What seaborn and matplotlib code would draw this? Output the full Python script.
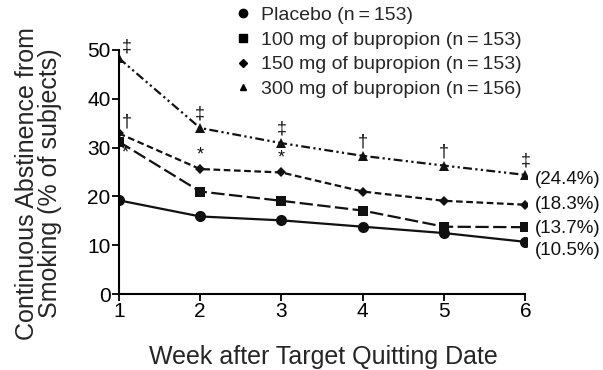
import matplotlib
matplotlib.use("Agg")
import matplotlib.pyplot as plt
import seaborn as sns
import pandas as pd
from matplotlib.lines import Line2D

weeks = [1, 2, 3, 4, 5, 6]
placebo = [19.2, 15.9, 15.1, 13.8, 12.5, 10.7]
bup100 = [31.2, 21.0, 19.1, 17.1, 13.8, 13.7]
bup150 = [32.9, 25.6, 24.9, 21.0, 19.1, 18.3]
bup300 = [48.3, 34.0, 30.9, 28.3, 26.3, 24.4]
series_names = ["Placebo (n\u2009=\u2009153)", "100 mg of bupropion (n\u2009=\u2009153)",
                "150 mg of bupropion (n\u2009=\u2009153)", "300 mg of bupropion (n\u2009=\u2009156)"]
end_labels = ["(10.5%)", "(13.7%)", "(18.3%)", "(24.4%)"]
# significance marks: (series index, week, symbol)
sig_marks = [(3, 1, "\u2021"), (2, 1, "\u2020"), (1, 1, "*"),
             (3, 2, "\u2021"), (3, 3, "\u2021"), (3, 4, "\u2020"), (3, 5, "\u2020"), (3, 6, "\u2021"),
             (2, 2, "*"), (2, 3, "*")]

sns.set_theme(style="ticks")
plt.rcParams['font.family'] = ['Liberation Sans', 'DejaVu Sans']

values = [placebo, bup100, bup150, bup300]
rows = []
for name, vals in zip(series_names, values):
    for w, v in zip(weeks, vals):
        rows.append({"week": w, "value": v, "group": name})
df = pd.DataFrame(rows)

fig = plt.figure(figsize=(6.03, 3.70), dpi=100)
ax = fig.add_axes([0.197, 0.205, 0.677, 0.667])

markers = dict(zip(series_names, ["o", "s", "D", "^"]))
dashes = dict(zip(series_names, ["", (6, 2), (3, 1.6), (4, 1.5, 1, 1.5, 1, 1.5)]))
sizes = {series_names[0]: 8, series_names[1]: 7, series_names[2]: 5.5, series_names[3]: 6.5}

for name, vals in zip(series_names, values):
    sub = df[df.group == name]
    sns.lineplot(data=sub, x="week", y="value", ax=ax, color="#111111",
                 marker=markers[name], markersize=sizes[name], markeredgewidth=0,
                 linewidth=1.6, dashes=False, legend=False)
    line = ax.lines[-1]
    if dashes[name]:
        line.set_dashes(dashes[name])

ax.set_xlim(1, 6.02)
ax.set_ylim(0, 50.5)
ax.set_xticks(weeks)
ax.set_yticks([0, 10, 20, 30, 40, 50])
sns.despine(ax=ax)
for sp in ('left', 'bottom'):
    ax.spines[sp].set_linewidth(1.5)
    ax.spines[sp].set_color("black")
ax.spines['left'].set_bounds(0, 50)
ax.spines['bottom'].set_bounds(1, 6)
ax.tick_params(axis='both', labelsize=15, width=1.3, length=5, colors="black", pad=1)
ax.set_xlabel("Week after Target Quitting Date", fontsize=18, labelpad=17)
ax.set_ylabel("Continuous Abstinence from\nSmoking (% of subjects)", fontsize=18,
              linespacing=0.95)
ax.yaxis.set_label_coords(-0.14, 0.45)

for i, (s, w, sym) in enumerate(sig_marks):
    y = values[s][w - 1]
    if w == 1 and sym != "*":
        off = (6, 2)
    elif sym == "*" and w == 1:
        off = (5, -14)
    else:
        off = (0, 4)
    ax.annotate(sym, (w, y), xytext=off, textcoords="offset points",
                ha="center", va="bottom", fontsize=13, color="#111111")

end_offsets = [-6, -1, 0, -3]
for vals, lab, yoff in zip(values, end_labels, end_offsets):
    ax.annotate(lab, (6, vals[-1]), xytext=(7, yoff), textcoords="offset points",
                ha="left", va="center", fontsize=13.5, color="#111111")

# legend (markers only)
handles = [Line2D([], [], color="black", marker=markers[n], linestyle="none",
                  markersize=sizes[n] * 0.75) for n in series_names]
leg = fig.legend(handles, series_names, loc="upper left", bbox_to_anchor=(0.393, 0.982),
                 frameon=False, fontsize=14, handlelength=0.6, handletextpad=0.63,
                 labelspacing=0.36, borderaxespad=0, borderpad=0)

fig.savefig("out.png", dpi=100)
